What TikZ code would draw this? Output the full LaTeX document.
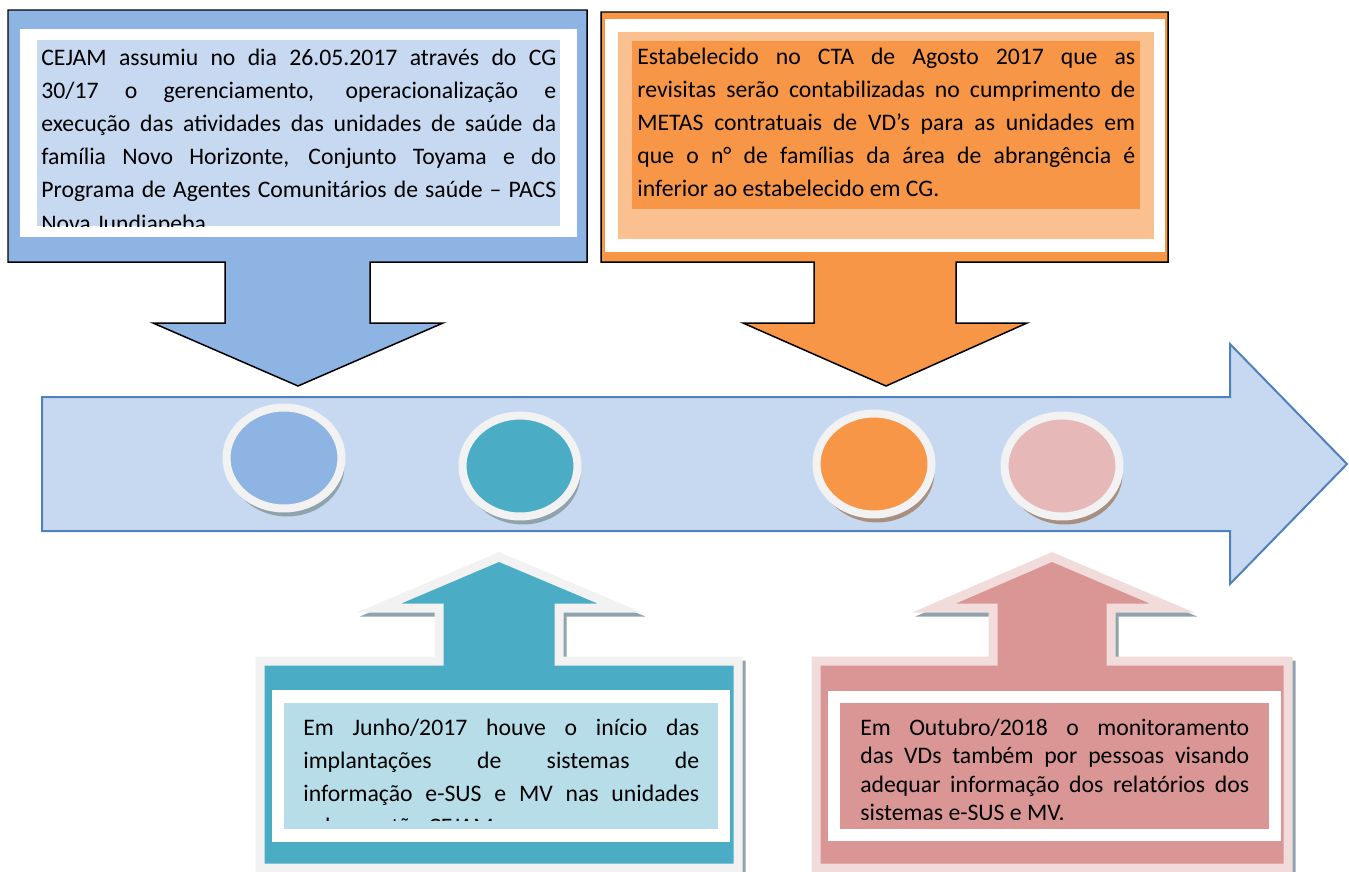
\documentclass[tikz,border=0pt]{standalone}
\usepackage{fontspec}
\setmainfont{Carlito}
\usepackage{tikz}
\usetikzlibrary{shapes.geometric,shadows}

\definecolor{azul}{HTML}{8EB4E3}
\definecolor{azulclaro}{HTML}{C6D9F1}
\definecolor{azulborda}{HTML}{4F81BD}
\definecolor{laranja}{HTML}{F79646}
\definecolor{laranjaclaro}{HTML}{FAC090}
\definecolor{verde}{HTML}{4BACC6}
\definecolor{verdeclaro}{HTML}{B7DEE8}
\definecolor{rosa}{HTML}{D99694}
\definecolor{rosaclaro}{HTML}{E6B9B8}
\definecolor{rosaborda}{HTML}{F2DCDB}
\definecolor{anel}{HTML}{F2F2F2}
\definecolor{sombraazul}{HTML}{8FA3AD}
\definecolor{sombrarosa}{HTML}{A88F80}

\tolerance=10000
\hbadness=10000
\hyphenpenalty=10000
\exhyphenpenalty=10000

% contorno das setas de baixo
\def\setaverde{(260,661) -- (439,661) -- (439,608) -- (379,608) -- (499,557) -- (620,608) -- (559,608) -- (559,661) -- (738,661) -- (738,868) -- (260,868) -- cycle}
\def\setarosa{(816,661) -- (993,661) -- (993,608) -- (934,608) -- (1052,557) -- (1172,608) -- (1111,608) -- (1111,661) -- (1288,661) -- (1288,868) -- (816,868) -- cycle}

\begin{document}
\begin{tikzpicture}[x = 0.02cm, y = -0.02cm, line join = miter,
    texto/.style = {anchor = north west, inner sep = 0pt, align = justify,
        font = \fontsize{13.5}{18.9}\selectfont},
    marco/.style = {ellipse, draw = anel, line width = 0.16cm, inner sep = 0pt,
        minimum width = 2.3cm, minimum height = 2.02cm}]
\useasboundingbox (0,0) rectangle (1349,872);

% linha do tempo
\draw [fill = azulclaro, draw = azulborda, line width = 0.04cm] (42,397) -- (1230,397) -- (1230,344) -- (1347,464) -- (1230,584) -- (1230,531) -- (42,531) -- cycle;

\draw (284,458) node[marco, fill = azul, drop shadow = {shadow xshift = 0.06cm, shadow yshift = -0.16cm, fill = sombraazul, opacity = 1}](c1){}
    (520,466) node[marco, fill = verde, drop shadow = {shadow xshift = 0.06cm, shadow yshift = -0.16cm, fill = sombraazul, opacity = 1}](c2){}
    (874,464) node[marco, fill = laranja, drop shadow = {shadow xshift = 0.06cm, shadow yshift = -0.16cm, fill = sombrarosa, opacity = 1}](c3){}
    (1062,466) node[marco, fill = rosaclaro, drop shadow = {shadow xshift = 0.06cm, shadow yshift = -0.16cm, fill = sombrarosa, opacity = 1}](c4){};

% caixa azul
\draw [fill = azul, line width = 0.03cm] (8,10) -- (587,10) -- (587,262) -- (370,262) -- (370,323) -- (443,323) -- (298,386) -- (153,323) -- (225,323) -- (225,262) -- (8,262) -- cycle;
\fill [white] (20,29) rectangle (577,237);
\fill [azulclaro] (37,40) rectangle (560,226);
\begin{scope}
\clip (37,40) rectangle (560,226);
\node[texto, text width = 10.3cm] (cejam) at (41,41.5) {\strut CEJAM assumiu no dia 26.05.2017 através do CG\linebreak
30/17 o gerenciamento, operacionalização e\linebreak
execução das atividades das unidades de saúde da\linebreak
família Novo Horizonte, Conjunto Toyama e do\linebreak
Programa de Agentes Comunitários de saúde – PACS\linebreak
Nova Jundiapeba};
\end{scope}

% caixa laranja
\draw [fill = laranja, line width = 0.03cm] (601,12) -- (1168,12) -- (1168,262) -- (956,262) -- (956,323) -- (1027,323) -- (886,386) -- (743,323) -- (814,323) -- (814,262) -- (601,262) -- cycle;
\fill [white] (605,19) rectangle (1165,252);
\fill [laranjaclaro] (618,32) rectangle (1154,239);
\fill [laranja] (632,41) rectangle (1140,209);
\node[texto, text width = 9.96cm] (cta) at (637,40.5) {\strut Estabelecido no CTA de Agosto 2017 que as\linebreak
revisitas serão contabilizadas no cumprimento de\linebreak
METAS contratuais de VD’s para as unidades em\linebreak
que o n° de famílias da área de abrangência é\linebreak
inferior ao estabelecido em CG.};

% caixa verde
\draw [sombraazul, fill = sombraazul, line width = 0.18cm, shift = {(3,4)}] \setaverde;
\draw [anel, fill = verde, line width = 0.18cm] \setaverde;
\fill [white] (272,690) rectangle (730,842);
\fill [verdeclaro] (284,703) rectangle (718,829);
\begin{scope}
\clip (284,703) rectangle (718,820);
\node[texto, text width = 7.92cm] (junho) at (303,711.6) {\strut Em Junho/2017 houve o início das\linebreak
implantações de sistemas de\linebreak
informação e-SUS e MV nas unidades\linebreak
sob a gestão CEJAM.};
\end{scope}

% caixa rosa
\draw [sombraazul, fill = sombraazul, line width = 0.18cm, shift = {(3,4)}] \setarosa;
\draw [rosaborda, fill = rosa, line width = 0.18cm] \setarosa;
\fill [white] (828,691) rectangle (1281,841);
\fill [rosa] (840,703) rectangle (1269,829);
\begin{scope}
\clip (840,703) rectangle (1269,819);
\node[texto, text width = 7.78cm, font = \fontsize{13.5}{16.2}\selectfont] (outubro) at (860,715) {\strut Em Outubro/2018 o monitoramento\linebreak
das VDs também por pessoas visando\linebreak
adequar informação dos relatórios dos\linebreak
sistemas e-SUS e MV.};
\end{scope}
\end{tikzpicture}
\end{document}
